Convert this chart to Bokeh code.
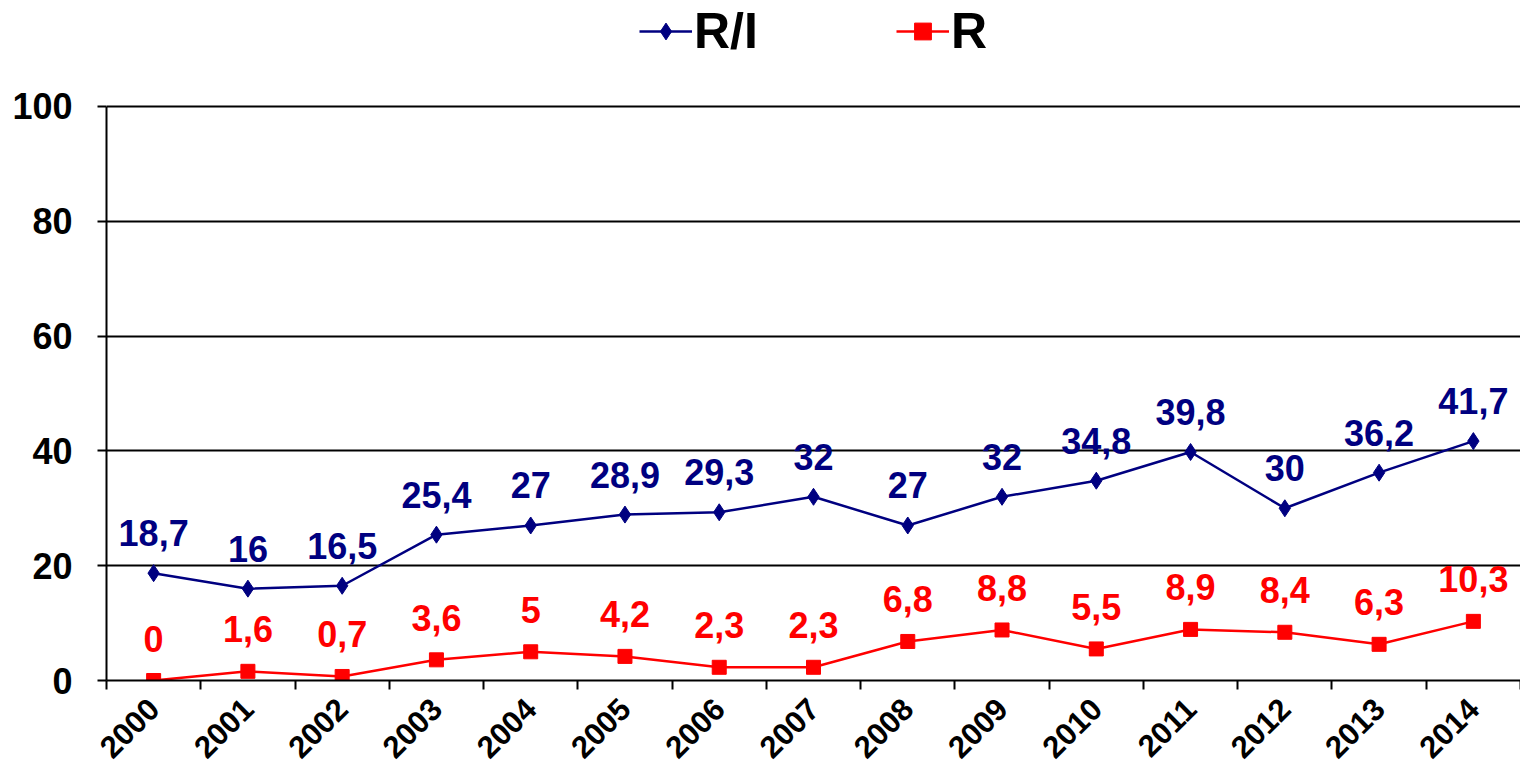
import math
from bokeh.plotting import figure
from bokeh.models import ColumnDataSource, Range1d, FixedTicker, Legend, LegendItem
from bokeh.core.properties import value
from bokeh.embed import file_html
from bokeh.resources import INLINE

years = ["2000", "2001", "2002", "2003", "2004", "2005", "2006", "2007",
         "2008", "2009", "2010", "2011", "2012", "2013", "2014"]
ri_values = [18.7, 16, 16.5, 25.4, 27, 28.9, 29.3, 32, 27, 32, 34.8, 39.8, 30, 36.2, 41.7]
r_values = [0, 1.6, 0.7, 3.6, 5, 4.2, 2.3, 2.3, 6.8, 8.8, 5.5, 8.9, 8.4, 6.3, 10.3]
y_ticks = [0, 20, 40, 60, 80, 100]

FONT = "Liberation Sans"
NAVY = "#000080"
RED = "#FF0000"

def fmt(v):
    s = ("%g" % v)
    return s.replace(".", ",")

idx = list(range(len(years)))
src_ri = ColumnDataSource(dict(x=idx, y=ri_values, lab=[fmt(v) for v in ri_values]))
src_r = ColumnDataSource(dict(x=idx, y=r_values, lab=[fmt(v) for v in r_values]))

# frame extends above 100 to leave room for the legend (axis line bounded to 0..100)
p = figure(width=1520, height=770, output_backend="svg", toolbar_location=None,
           x_range=Range1d(-0.5, len(years) - 0.5), y_range=Range1d(0, 118.1),
           min_border_left=106, min_border_right=0, min_border_top=2, min_border_bottom=89)
p.outline_line_color = None
p.background_fill_color = "white"
p.border_fill_color = "white"

# grid
p.xgrid.grid_line_color = None
p.ygrid.ticker = FixedTicker(ticks=y_ticks)
p.ygrid.grid_line_color = "black"
p.ygrid.grid_line_width = 2

# y axis
p.yaxis.ticker = FixedTicker(ticks=y_ticks)
p.yaxis.bounds = (0, 100)
p.yaxis.axis_line_width = 2
p.yaxis.axis_line_color = "black"
p.yaxis.major_tick_line_width = 2
p.yaxis.major_tick_out = 9
p.yaxis.major_tick_in = 0
p.yaxis.minor_tick_line_color = None
p.yaxis.major_label_text_font = FONT
p.yaxis.major_label_text_font_style = "bold"
p.yaxis.major_label_text_font_size = "36px"
p.yaxis.major_label_text_color = "black"
p.yaxis.major_label_standoff = 25

# x axis: labels at centres, ticks at boundaries (minor)
p.xaxis.ticker = FixedTicker(ticks=idx, minor_ticks=[i - 0.5 for i in range(len(years) + 1)])
p.xaxis.major_label_overrides = {i: y for i, y in enumerate(years)}
p.xaxis.axis_line_width = 2
p.xaxis.axis_line_color = "black"
p.xaxis.major_tick_line_color = None
p.xaxis.minor_tick_line_color = "black"
p.xaxis.minor_tick_line_width = 2
p.xaxis.minor_tick_out = 9
p.xaxis.minor_tick_in = 0
p.xaxis.major_label_orientation = math.pi / 4
p.xaxis.major_label_text_font = FONT
p.xaxis.major_label_text_font_style = "bold"
p.xaxis.major_label_text_font_size = "31px"
p.xaxis.major_label_text_color = "black"
p.xaxis.major_label_standoff = 14

# series
l1 = p.line("x", "y", source=src_ri, line_color=NAVY, line_width=2.5)
m1 = p.scatter("x", "y", source=src_ri, marker="diamond", size=17, fill_color=NAVY, line_color=NAVY)
l2 = p.line("x", "y", source=src_r, line_color=RED, line_width=2.5)
m2 = p.scatter("x", "y", source=src_r, marker="square", size=14, fill_color=RED, line_color=RED)

p.text("x", "y", text="lab", source=src_ri, text_font=value(FONT), text_font_style="bold",
       text_font_size="36px", text_color=NAVY, text_align="center", text_baseline="middle",
       y_offset=-40)
p.text("x", "y", text="lab", source=src_r, text_font=value(FONT), text_font_style="bold",
       text_font_size="36px", text_color=RED, text_align="center", text_baseline="middle",
       y_offset=-42)

legend = Legend(items=[LegendItem(label="R/I", renderers=[l1, m1]),
                       LegendItem(label="R", renderers=[l2, m2])],
                orientation="horizontal", location="top_center")
legend.label_text_font = FONT
legend.label_text_font_style = "bold"
legend.label_text_font_size = "50px"
legend.label_text_color = "black"
legend.glyph_width = 53
legend.glyph_height = 42
legend.label_standoff = 2
legend.spacing = 138
legend.border_line_color = None
legend.background_fill_alpha = 0
legend.padding = 0
legend.margin = 0
p.add_layout(legend, "center")

open("out.html", "w").write(file_html(p, INLINE))
